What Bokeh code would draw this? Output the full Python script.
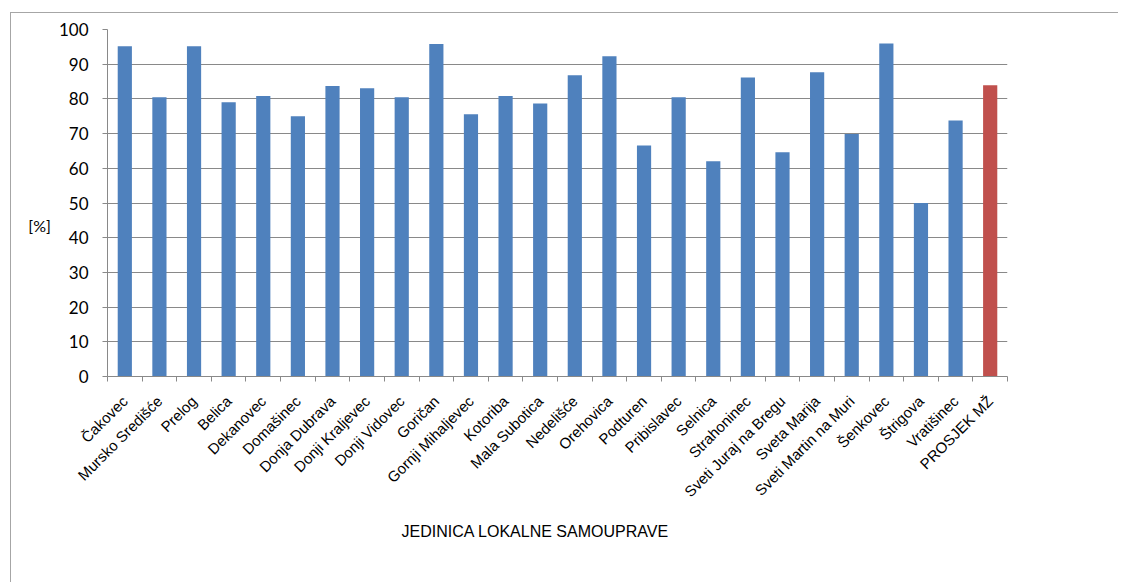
import math
from bokeh.plotting import figure
from bokeh.models import ColumnDataSource, Range1d, FixedTicker
from bokeh.embed import file_html
from bokeh.resources import INLINE

categories = ["Čakovec", "Mursko Središće", "Prelog", "Belica", "Dekanovec", "Domašinec",
              "Donja Dubrava", "Donji Kraljevec", "Donji Vidovec", "Goričan",
              "Gornji Mihaljevec", "Kotoriba", "Mala Subotica", "Nedelišće", "Orehovica",
              "Podturen", "Pribislavec", "Selnica", "Strahoninec", "Sveti Juraj na Bregu",
              "Sveta Marija", "Sveti Martin na Muri", "Šenkovec", "Štrigova", "Vratišinec",
              "PROSJEK MŽ"]
values = [95.2, 80.5, 95.2, 79.0, 80.8, 75.0, 83.7, 83.1, 80.5, 95.8,
          75.6, 80.8, 78.7, 86.8, 92.3, 66.6, 80.5, 62.0, 86.2, 64.6,
          87.7, 69.9, 96.0, 50.0, 73.8, 83.9]
y_ticks = [0, 10, 20, 30, 40, 50, 60, 70, 80, 90, 100]
y_title = "[%]"
x_title = "JEDINICA LOKALNE SAMOUPRAVE"

BLUE = "#4F81BD"
RED = "#C0504D"
GRAY = "#898989"

idx = list(range(len(categories)))
colors = [RED if c == "PROSJEK MŽ" else BLUE for c in categories]
source = ColumnDataSource(dict(x=idx, top=values, color=colors))

p = figure(width=1108, height=570, output_backend="svg", toolbar_location=None,
           x_range=Range1d(-0.5, len(categories) - 0.5), y_range=Range1d(0, 100),
           min_border_left=96, min_border_right=112, min_border_top=16, min_border_bottom=207)
p.styles = {"border-left": "1px solid #a6a6a6", "border-top": "1px solid #a6a6a6",
            "margin-left": "10px", "margin-top": "12px"}
p.outline_line_color = None
p.background_fill_color = "white"
p.border_fill_color = "white"

p.vbar(x="x", top="top", width=0.41, fill_color="color", line_color=None, source=source)

# x axis
xa = p.xaxis[0]
xa.ticker = FixedTicker(ticks=idx, minor_ticks=[i - 0.5 for i in range(len(categories) + 1)])
xa.major_label_overrides = {i: c for i, c in enumerate(categories)}
xa.major_label_orientation = math.pi / 4
xa.major_tick_out = 0
xa.major_tick_in = 0
xa.minor_tick_out = 5
xa.minor_tick_in = 0
xa.minor_tick_line_color = GRAY
xa.axis_line_color = GRAY
xa.major_label_standoff = 17
xa.major_label_text_font = "Liberation Sans"
xa.major_label_text_font_size = "15px"
xa.major_label_text_color = "#000000"
xa.axis_label = x_title + "\u00a0" * 10
xa.axis_label_standoff = 14
xa.axis_label_text_font = "Liberation Sans"
xa.axis_label_text_font_size = "16px"
xa.axis_label_text_font_style = "normal"
xa.axis_label_text_color = "#000000"

# y axis
ya = p.yaxis[0]
ya.ticker = FixedTicker(ticks=y_ticks, minor_ticks=[])
ya.major_tick_out = 5
ya.major_tick_in = 0
ya.major_tick_line_color = GRAY
ya.axis_line_color = GRAY
ya.major_label_standoff = 14
ya.major_label_text_font = "Lato"
ya.major_label_text_font_size = "17px"
ya.major_label_text_color = "#000000"
ya.axis_label = "\n\n" + y_title
ya.axis_label_orientation = "horizontal"
ya.axis_label_standoff = 5
ya.axis_label_text_font = "Lato"
ya.axis_label_text_font_size = "16px"
ya.axis_label_text_font_style = "normal"
ya.axis_label_text_color = "#000000"

p.xgrid.grid_line_color = None
p.ygrid.ticker = FixedTicker(ticks=y_ticks)
p.ygrid.grid_line_color = GRAY
p.ygrid.grid_line_width = 1

open("out.html", "w").write(file_html(p, INLINE))
